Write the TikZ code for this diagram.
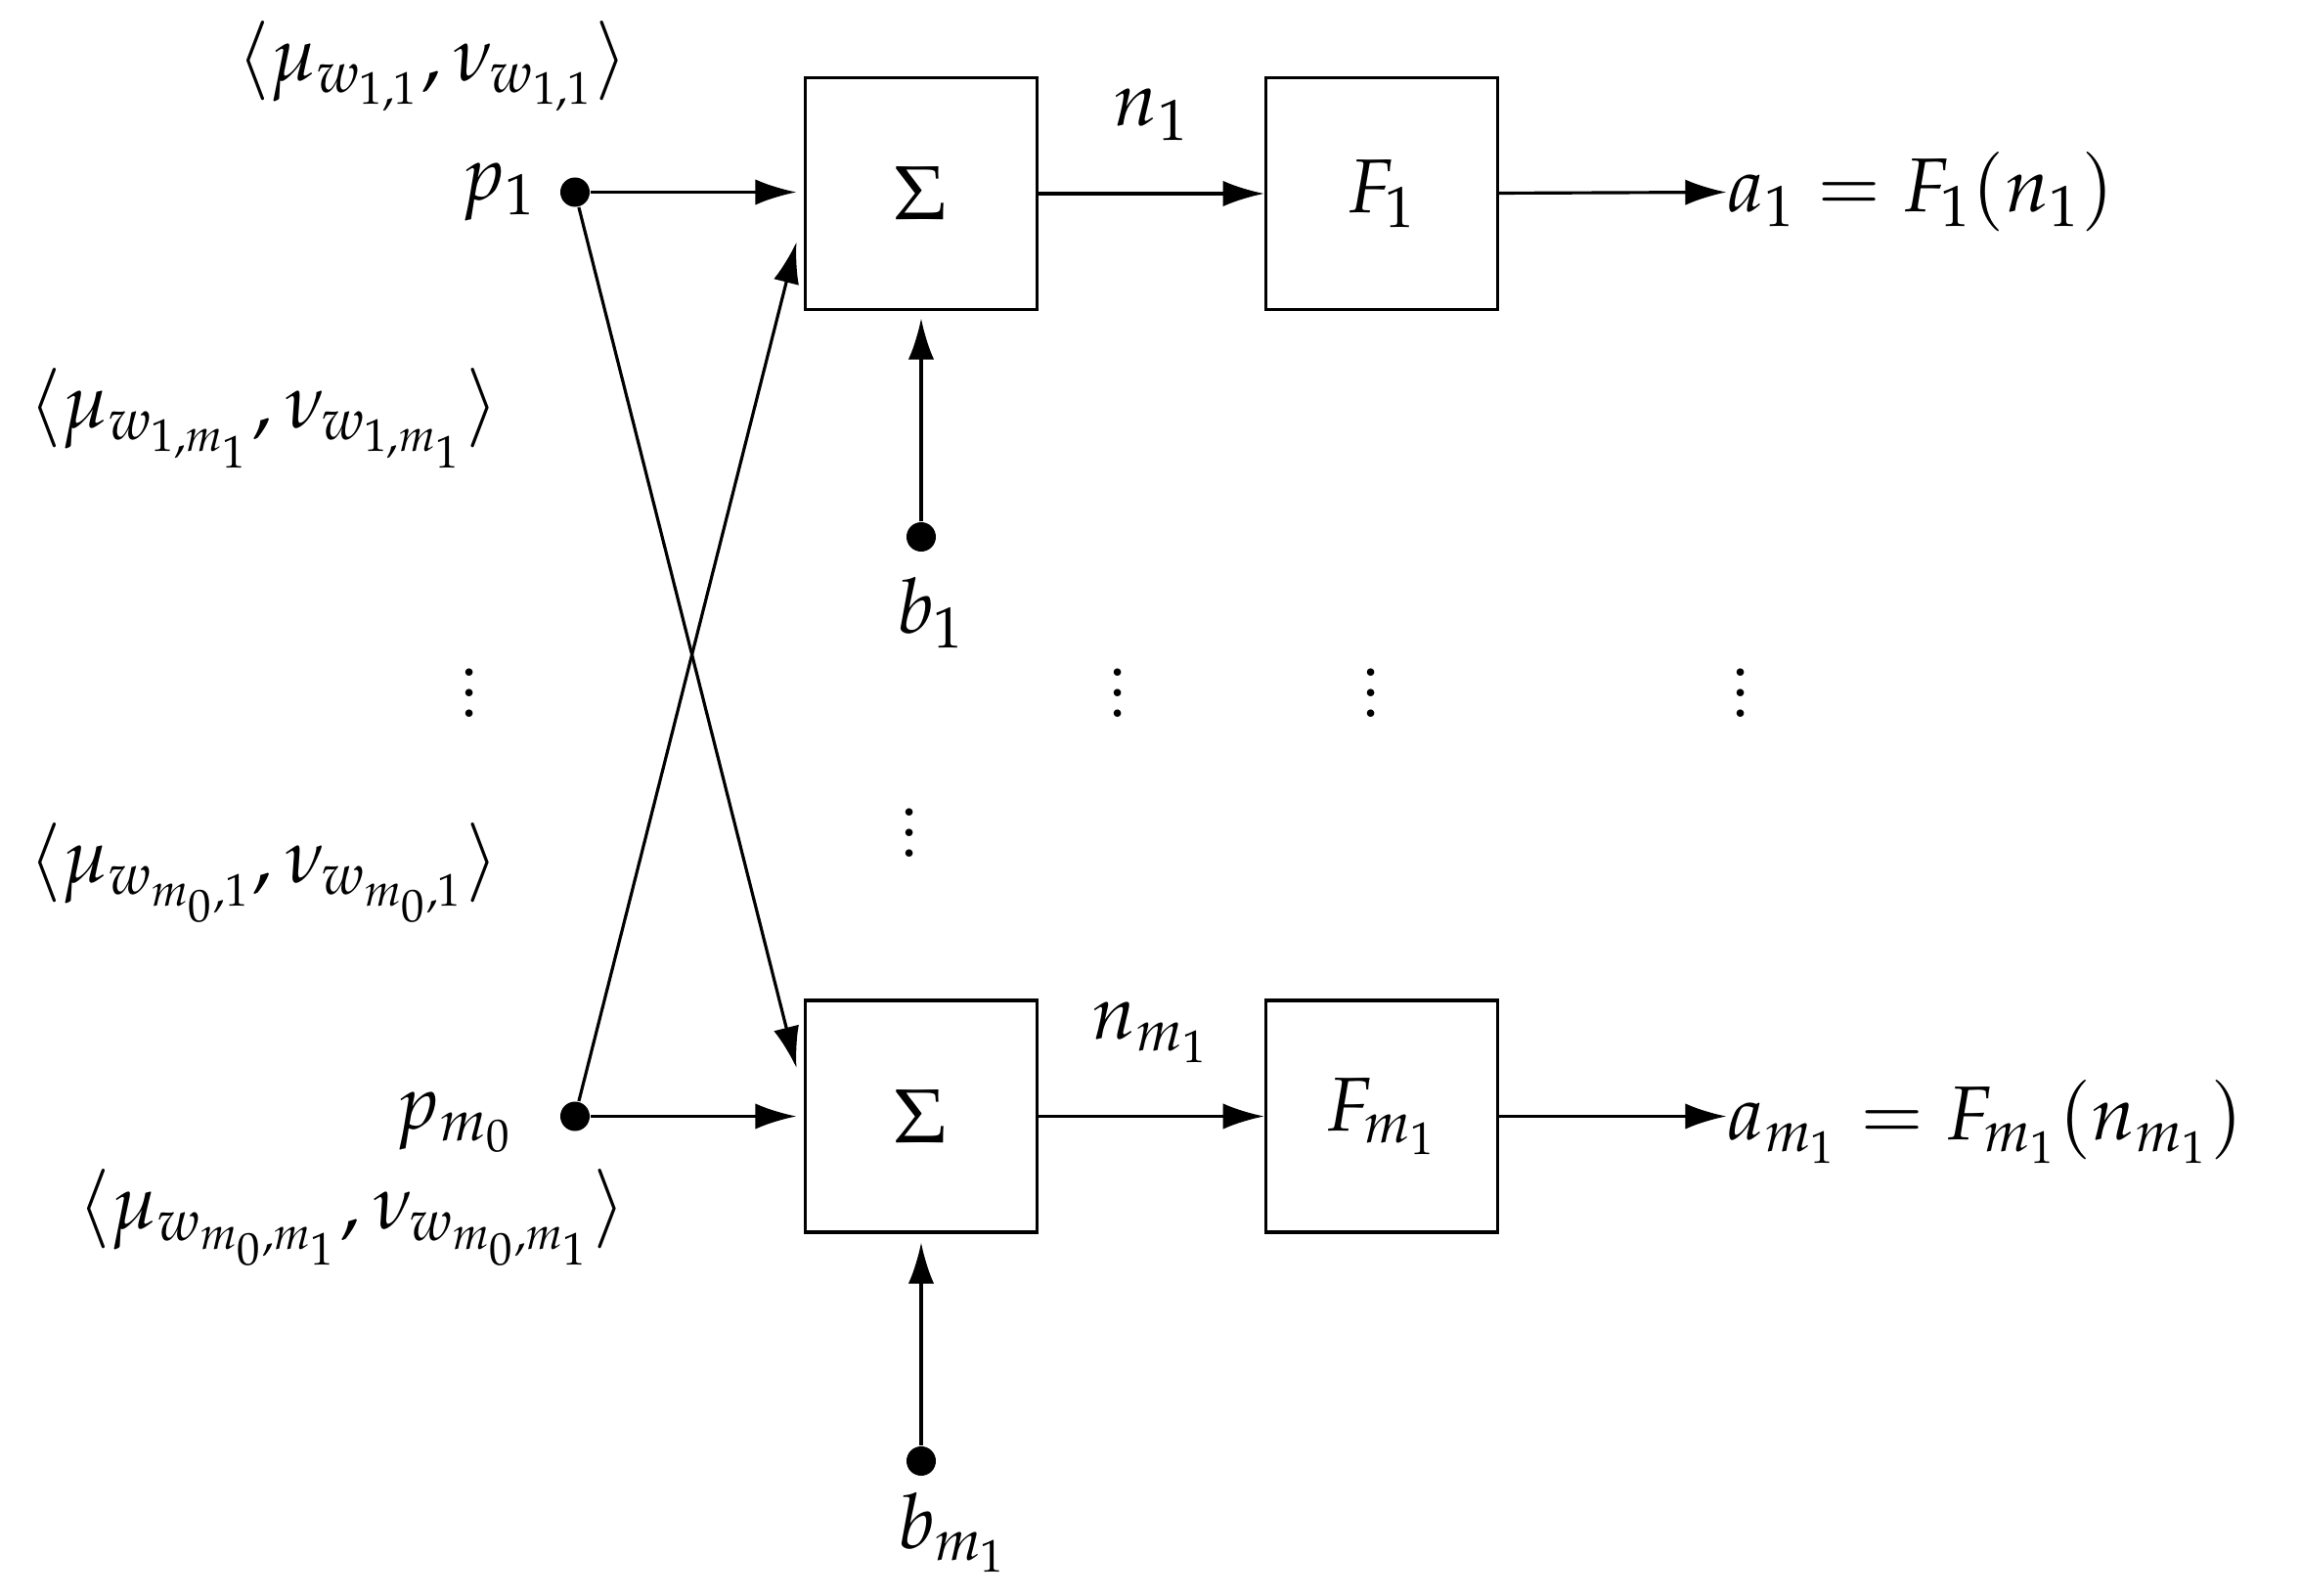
\documentclass[tikz,border=0pt]{standalone}
\usepackage{mathpazo}
\usetikzlibrary{arrows.meta}
\begin{document}
\begin{tikzpicture}[x=0.01cm,y=-0.01cm,
  font=\fontsize{14.8}{17}\selectfont,
  box/.style={draw,line width=0.6pt,minimum width=1.58cm,minimum height=1.58cm,inner sep=0pt},
  dot/.style={circle,fill,inner sep=0pt,minimum size=0.2cm},
  arr/.style={line width=0.6pt,-{Latex[length=8pt,width=5pt]}},
  lab/.style={inner sep=0pt}]
\useasboundingbox (0,0) rectangle (1568,1088);
\node[box] (s1) at (628,132) {$\Sigma$};
\node[box] (f1) at (942,132) {$F_1$};
\node[box] (s2) at (628,761) {$\Sigma$};
\node[box] (f2) at (942,761) {$F_{m_1}$};
\node[dot] (p1) at (392,131) {};
\node[dot] (p2) at (392,761) {};
\node[lab] at (340,131) {$p_1$};
\node[lab] at (310,765) {$p_{m_0}$};
\coordinate (i1) at (543,131);
\coordinate (i2) at (543,761);
\coordinate (c1) at (543,728);
\coordinate (c2) at (543,165);
\draw[arr] (p1) -- (i1);
\draw[arr] (p2) -- (i2);
\draw[arr] (p1) -- (c1);
\draw[arr] (p2) -- (c2);
\draw[arr] (s1) -- node[above=10pt,lab]{$n_1$} (f1);
\draw[arr] (s2) -- node[above=10pt,lab]{$n_{m_1}$} (f2);
\coordinate (o1) at (1177,131);
\coordinate (o2) at (1177,761);
\draw[arr] (f1) -- (o1);
\draw[arr] (f2) -- (o2);
\node[lab,anchor=west] at (1177,131) {$a_1=F_1(n_1)$};
\node[lab,anchor=west] at (1177,765) {$a_{m_1}=F_{m_1}(n_{m_1})$};
\node[dot] (b1) at (628,366) {};
\node[dot] (b2) at (628,996) {};
\coordinate (u1) at (628,217);
\coordinate (u2) at (628,847);
\draw[arr] (b1) -- (u1);
\draw[arr] (b2) -- (u2);
\node[lab] at (635,418) {$b_1$};
\node[lab] at (650,1045) {$b_{m_1}$};
\foreach \x/\y in {320/462,762/462,935/462,1187/462,620/557} \node[lab] at (\x,\y) {$\vdots$};
\node[lab] at (295,45) {$\langle\mu_{w_{1,1}},\nu_{w_{1,1}}\rangle$};
\node[lab] at (180,285) {$\langle\mu_{w_{1,m_1}},\nu_{w_{1,m_1}}\rangle$};
\node[lab] at (180,595) {$\langle\mu_{w_{m_0,1}},\nu_{w_{m_0,1}}\rangle$};
\node[lab] at (240,830) {$\langle\mu_{w_{m_0,m_1}},\nu_{w_{m_0,m_1}}\rangle$};
\end{tikzpicture}
\end{document}
